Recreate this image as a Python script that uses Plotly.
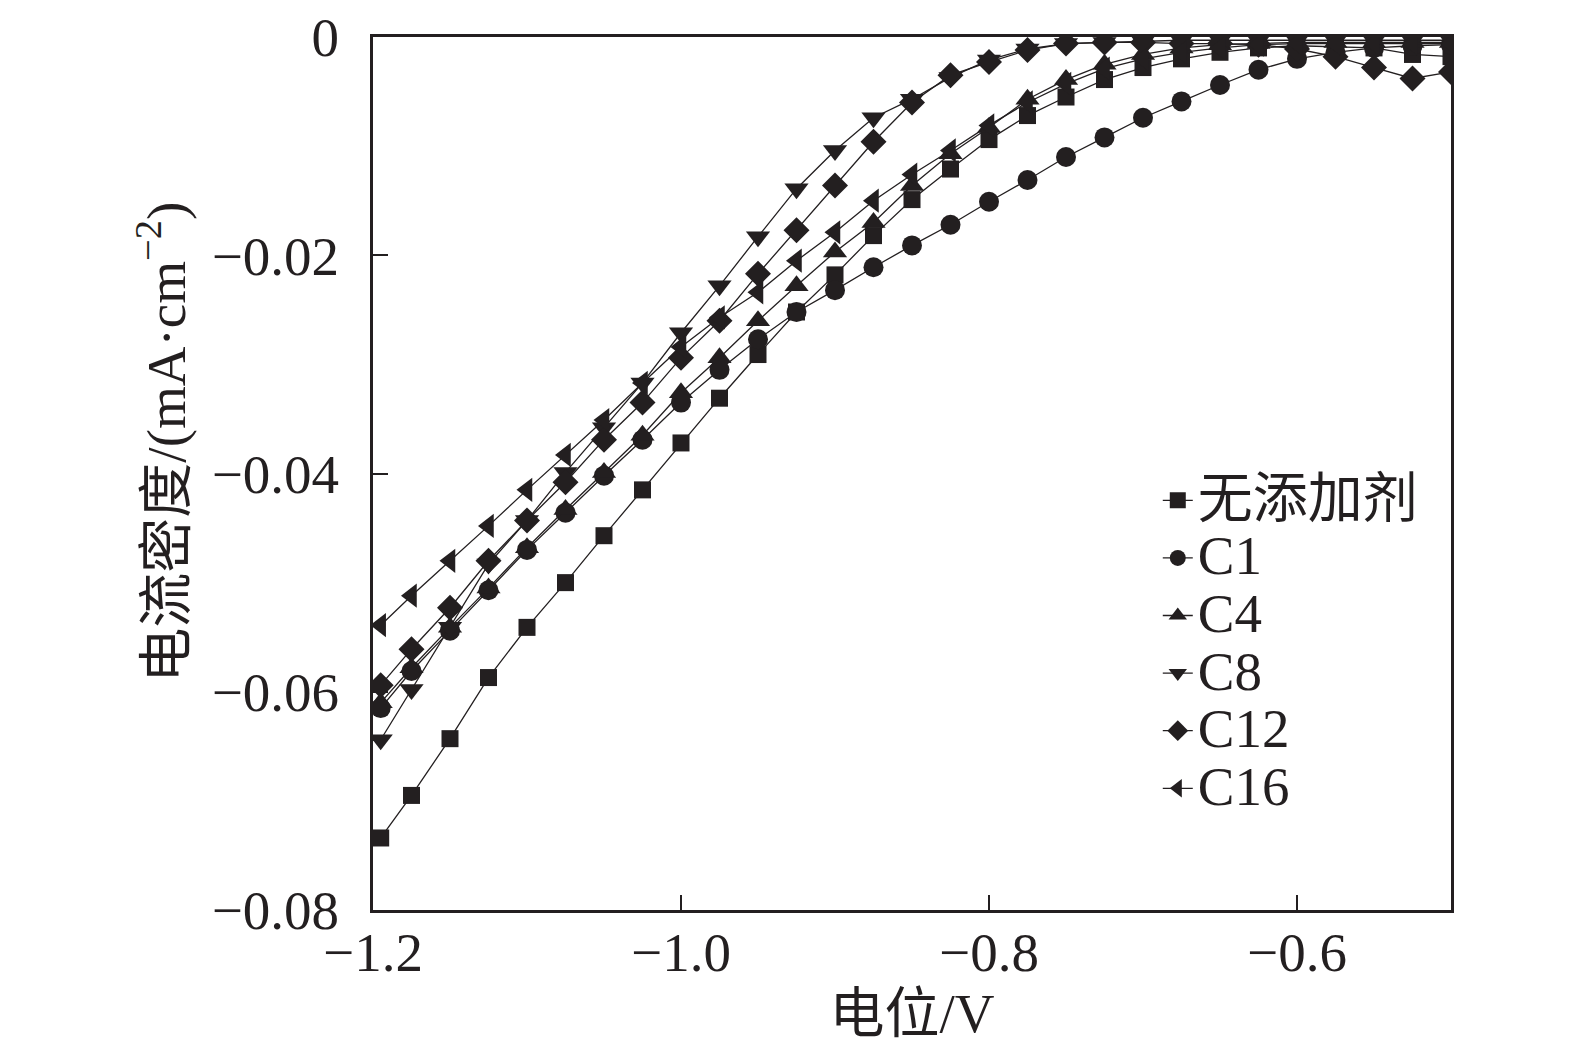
import plotly.graph_objects as go

# potential (V)
potential = [-1.195, -1.175, -1.15, -1.125, -1.1, -1.075, -1.05, -1.025, -1.0,
             -0.975, -0.95, -0.925, -0.9, -0.875, -0.85, -0.825, -0.8, -0.775,
             -0.75, -0.725, -0.7, -0.675, -0.65, -0.625, -0.6, -0.575, -0.55,
             -0.525, -0.5]

# current density (mA/cm2)
no_additive = [-0.0734, -0.0695, -0.0643, -0.0587, -0.0541, -0.0500, -0.0457, -0.0415, -0.0372,
               -0.0331, -0.0291, -0.0252, -0.0218, -0.0182, -0.0149, -0.0121, -0.0094, -0.0072,
               -0.0055, -0.0039, -0.0028, -0.0020, -0.0014, -0.0010, -0.0008, -0.0009, -0.0010,
               -0.0016, -0.0018]
c1 = [-0.0615, -0.0581, -0.0544, -0.0507, -0.0470, -0.0436, -0.0402, -0.0369, -0.0335,
      -0.0305, -0.0277, -0.0252, -0.0232, -0.0211, -0.0191, -0.0172, -0.0151, -0.0131,
      -0.0110, -0.0092, -0.0074, -0.0059, -0.0044, -0.0030, -0.0020, -0.0014, -0.0010,
      -0.0008, -0.0007]
c4 = [-0.0610, -0.0578, -0.0541, -0.0505, -0.0468, -0.0433, -0.0399, -0.0365, -0.0326,
      -0.0294, -0.0260, -0.0228, -0.0197, -0.0170, -0.0136, -0.0107, -0.0083, -0.0057,
      -0.0039, -0.0025, -0.0016, -0.0010, -0.0007, -0.0006, -0.0005, -0.0005, -0.0005,
      -0.0005, -0.0005]
c8 = [-0.0644, -0.0598, -0.0541, -0.0483, -0.0443, -0.0399, -0.0358, -0.0317, -0.0271,
      -0.0228, -0.0183, -0.0139, -0.0104, -0.0074, -0.0057, -0.0037, -0.0021, -0.0011,
      -0.0006, -0.0005, -0.0004, -0.0003, -0.0003, -0.0003, -0.0003, -0.0003, -0.0003,
      -0.0003, -0.0003]
c12 = [-0.0594, -0.0561, -0.0523, -0.0480, -0.0443, -0.0408, -0.0369, -0.0335, -0.0294,
       -0.0260, -0.0217, -0.0177, -0.0136, -0.0096, -0.0060, -0.0035, -0.0023, -0.0012,
       -0.0006, -0.0005, -0.0005, -0.0006, -0.0006, -0.0007, -0.0011, -0.0018, -0.0028,
       -0.0038, -0.0032]
c16 = [-0.0539, -0.0512, -0.0480, -0.0448, -0.0415, -0.0383, -0.0351, -0.0317, -0.0284,
       -0.0257, -0.0234, -0.0205, -0.0179, -0.0150, -0.0126, -0.0104, -0.0081, -0.0060,
       -0.0043, -0.0029, -0.0020, -0.0014, -0.0010, -0.0007, -0.0006, -0.0006, -0.0006,
       -0.0006, -0.0006]

names = ["无添加剂", "C1", "C4", "C8", "C12", "C16"]
series = [no_additive, c1, c4, c8, c12, c16]
symbols = ["square", "circle", "triangle-up", "triangle-down", "diamond", "triangle-left"]
sizes = [17, 20, 21, 21, 20, 21]

x_ticks = [-1.2, -1.0, -0.8, -0.6]
x_ticktext = ["−1.2", "−1.0", "−0.8", "−0.6"]
y_ticks = [0, -0.02, -0.04, -0.06, -0.08]
y_ticktext = ["0", "−0.02", "−0.04", "−0.06", "−0.08"]

INK = "#231f20"
FONT = "Liberation Serif, Noto Sans CJK SC, serif"

fig = go.Figure()

for name, ys, sym, sz in zip(names, series, symbols, sizes):
    fig.add_trace(go.Scatter(
        x=potential, y=ys,
        mode="lines+markers",
        name='<span style="font-size:55px">' + name + "</span>",
        line=dict(color=INK, width=1.3),
        marker=dict(symbol=sym, size=sz, color=INK, line=dict(width=0)),
    ))

axis_common = dict(
    showline=True, linecolor=INK, linewidth=3, mirror=True,
    ticks="inside", ticklen=15, tickwidth=2, tickcolor=INK,
    showgrid=False, zeroline=False, ticklabeloverflow="allow", automargin=False,
    tickfont=dict(family=FONT, size=55, color=INK),
)

fig.update_layout(
    width=1575, height=1053,
    paper_bgcolor="white", plot_bgcolor="white",
    margin=dict(l=365, r=132, t=29, b=151),
    font=dict(family=FONT, color=INK),
    xaxis=dict(range=[-1.2, -0.5], tickvals=x_ticks, ticktext=x_ticktext,
               ticklabelstandoff=-8,
               title=dict(text="电位/V", font=dict(family=FONT, size=55, color=INK), standoff=0),
               **axis_common),
    yaxis=dict(range=[-0.08, 0], tickvals=y_ticks, ticktext=y_ticktext,
               ticklabelstandoff=20, **axis_common),
    legend=dict(x=0.728, y=0.508, xanchor="left", yanchor="top",
                font=dict(family=FONT, size=42, color=INK),
                bgcolor="rgba(0,0,0,0)"),
    showlegend=True,
)

fig.add_annotation(
    xref="paper", yref="paper", x=-0.230, y=0.536,
    text="电流密度/(mA·cm<sup>−2</sup>)", textangle=-90, showarrow=False,
    font=dict(family=FONT, size=55, color=INK),
)

fig.write_html("out.html")
